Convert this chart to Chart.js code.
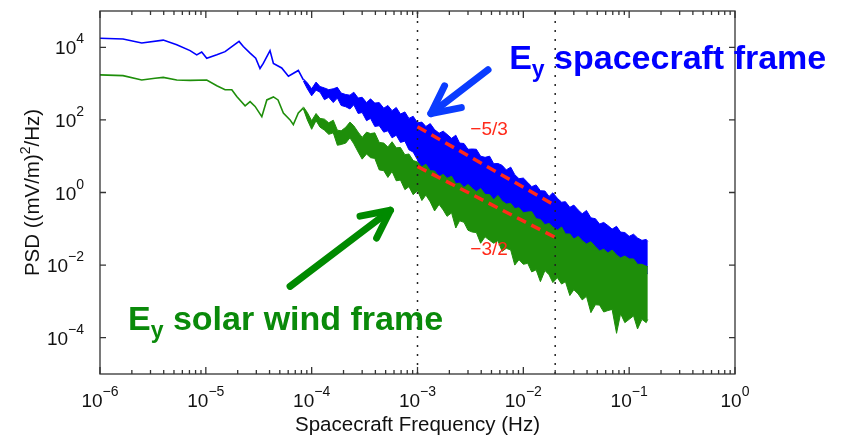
<!DOCTYPE html>
<html>
<head>
<meta charset="utf-8">
<script src="https://cdn.jsdelivr.net/npm/chart.js@4.4.1/dist/chart.umd.min.js"></script>
<style>
  html, body { margin: 0; padding: 0; background: #fff; }
  #wrap { width: 844px; height: 439px; }
</style>
</head>
<body>
<div id="wrap"><canvas id="psdChart" width="844" height="439"></canvas></div>
<script>
// ---- data (Hz, (mV/m)^2/Hz) ----
const blueLowFreq = [1e-6, 1.65e-6, 2.48e-6, 3.96e-6, 5.31e-6, 7.1e-6, 8.2e-6, 9.14e-6, 1.02e-5, 1.27e-5, 1.52e-5, 1.76e-5,
  2.06e-5, 2.26e-5, 2.62e-5, 2.96e-5, 3.25e-5, 3.49e-5, 4.04e-5, 4.35e-5, 5.21e-5, 6.03e-5, 7.48e-5, 8.35e-5];
const blueLowPsd = [1.78e4, 1.70e4, 1.32e4, 1.58e4, 1.17e4, 8.1e3, 6.2e3, 7.4e3, 5.0e3, 6.2e3, 7.6e3, 1.05e4,
  1.45e4, 1.05e4, 6.9e3, 5.0e3, 2.6e3, 3.6e3, 8.1e3, 3.6e3, 2.7e3, 1.6e3, 2.3e3, 1.26e3];

const greenLowFreq = [1e-6, 1.65e-6, 2.48e-6, 3.31e-6, 3.96e-6, 5.31e-6, 7.1e-6, 1.02e-5, 1.27e-5, 1.52e-5, 1.76e-5, 1.96e-5,
  2.35e-5, 2.62e-5, 2.92e-5, 3.38e-5, 3.77e-5, 4.35e-5, 4.81e-5, 5.4e-5, 6.25e-5, 6.71e-5, 7.48e-5, 8.35e-5];
const greenLowPsd = [1.74e3, 1.66e3, 1.26e3, 1.41e3, 1.48e3, 1.26e3, 1.23e3, 1.26e3, 870, 680, 680, 440,
  245, 320, 235, 123, 355, 430, 355, 155, 100, 74, 155, 214];

// noisy part: upper / lower edge of each trace
const bandFreq = [8.35e-5, 9.1e-5,
  1.0e-4, 1.1e-4, 1.2e-4, 1.32e-4, 1.45e-4, 1.6e-4, 1.75e-4, 1.9e-4, 2.1e-4, 2.3e-4, 2.5e-4, 2.75e-4, 3.0e-4, 3.3e-4, 3.6e-4, 3.95e-4, 4.35e-4, 4.8e-4, 5.25e-4, 5.75e-4, 6.3e-4, 6.9e-4, 7.6e-4, 8.3e-4, 9.1e-4,
  1.0e-3, 1.1e-3, 1.2e-3, 1.32e-3, 1.45e-3, 1.6e-3, 1.75e-3, 1.9e-3, 2.1e-3, 2.3e-3, 2.5e-3, 2.75e-3, 3.0e-3, 3.3e-3, 3.6e-3, 3.95e-3, 4.35e-3, 4.8e-3, 5.25e-3, 5.75e-3, 6.3e-3, 6.9e-3, 7.6e-3, 8.3e-3, 9.1e-3,
  1.0e-2, 1.1e-2, 1.2e-2, 1.32e-2, 1.45e-2, 1.6e-2, 1.75e-2, 1.9e-2, 2.1e-2, 2.3e-2, 2.5e-2, 2.75e-2, 3.0e-2, 3.3e-2, 3.6e-2, 3.95e-2, 4.35e-2, 4.8e-2, 5.25e-2, 5.75e-2, 6.3e-2, 6.9e-2, 7.6e-2, 8.3e-2, 9.1e-2,
  0.10, 0.11, 0.12, 0.132, 0.145, 0.15];

const blueHi = [1350, 1050, 720, 1100, 830, 760, 680, 720, 790, 550, 500, 480, 580, 400, 420, 300, 380, 290, 300, 210, 250, 180, 220, 145, 166, 110, 126,
  83, 87, 66, 79, 54, 43, 49, 40, 31, 38, 23, 22.4, 15.5, 15.8, 15.5, 10, 9.3, 10, 6.2, 6.3, 5.6, 4.2, 5.0, 3.1, 2.4,
  2.5, 1.9, 1.45, 1.62, 1.12, 1.1, 0.78, 0.98, 0.69, 0.54, 0.56, 0.39, 0.45, 0.33, 0.26, 0.32, 0.20, 0.19, 0.135, 0.15, 0.123, 0.098, 0.117, 0.081, 0.079,
  0.062, 0.071, 0.056, 0.048, 0.051, 0.045];
const blueLo = [1170, 720, 460, 660, 580, 360, 420, 300, 400, 250, 230, 200, 260, 150, 160, 95, 110, 66, 69, 46, 50, 32, 38, 24, 26, 15, 13,
  7.9, 3.5, 3.0, 2.6, 2.3, 2.0, 1.8, 1.55, 1.35, 1.17, 1.1, 0.98, 0.89, 0.79, 0.72, 0.66, 0.59, 0.51, 0.46, 0.41, 0.36, 0.32, 0.28, 0.24, 0.20,
  0.19, 0.17, 0.15, 0.126, 0.11, 0.093, 0.078, 0.068, 0.062, 0.054, 0.048, 0.043, 0.037, 0.033, 0.030, 0.026, 0.022, 0.019, 0.017, 0.0155, 0.014, 0.013, 0.012, 0.011, 0.0098,
  0.0087, 0.0078, 0.0071, 0.0063, 0.0059, 0.0058];
const greenHi = [230, 160, 95, 150, 110, 105, 83, 98, 52, 50, 63, 87, 69, 46, 33, 46, 42, 44, 24, 23, 18, 25, 17, 17.4, 11, 11.5, 7.6,
  6.9, 5.1, 6.0, 4.0, 3.9, 2.75, 3.16, 2.45, 2.8, 1.74, 1.82, 1.38, 1.66, 1.29, 1.05, 1.29, 0.89, 0.87, 0.63, 0.83, 0.58, 0.48, 0.50, 0.36, 0.38,
  0.275, 0.29, 0.295, 0.19, 0.18, 0.13, 0.14, 0.112, 0.091, 0.112, 0.072, 0.072, 0.052, 0.062, 0.047, 0.038, 0.044, 0.032, 0.0245, 0.0275, 0.0214, 0.026, 0.019, 0.0158, 0.0178,
  0.0148, 0.0148, 0.0105, 0.0105, 0.0093, 0.0091];
const greenLo = [200, 100, 55, 95, 63, 52, 40, 44, 20, 21, 23, 32, 22, 13, 8.3, 11.5, 9.1, 8.7, 4.2, 4.0, 2.6, 3.8, 2.1, 2.2, 1.2, 1.45, 0.87,
  1.12, 0.60, 0.85, 0.55, 0.31, 0.47, 0.33, 0.22, 0.275, 0.105, 0.166, 0.151, 0.091, 0.081, 0.079, 0.040, 0.060, 0.048, 0.040, 0.047, 0.024, 0.029, 0.026, 0.010, 0.0141,
  0.0105, 0.0112, 0.0065, 0.0074, 0.0035, 0.0071, 0.0054, 0.0033, 0.0045, 0.0030, 0.0035, 0.00145, 0.0021, 0.0016, 0.0011, 0.00138, 0.00049, 0.00081, 0.00079, 0.00051, 0.00056, 0.0006, 0.000132, 0.00046, 0.00026,
  0.00032, 0.0004, 0.000174, 0.00032, 0.00026, 0.00032];

// reference slopes and marker frequencies
const slopeFreq = [1e-3, 2e-2];
const slope53Psd = [64.6, 0.44];
const slope32Psd = [5.2, 0.058];
const markerFreq = [1e-3, 2e-2];

// axes
const xTickExp = [-6, -5, -4, -3, -2, -1, 0];
const yTickExp = [-4, -2, 0, 2, 4];

// annotation anchors in data coords [freq, psd]
const scLabelAt = [7.35e-3, 2.5e3];
const swLabelAt = [1.84e-6, 1.65e-4];
const scArrow = [[4.64e-3, 2.4e3], [1.26e-3, 130]];
const swArrow = [[6.25e-5, 2.6e-3], [5.9e-4, 0.37]];
const s53At = [4.75e-3, 38.9];
const s32At = [4.75e-3, 0.0192];

const FONT = '"Liberation Sans", Arial, Helvetica, sans-serif';
const BLUE = '#0000ff', GREEN = '#1e8e0a', RED = '#ff2a1a';

const pts = (xs, ys) => xs.map((x, i) => ({x: x, y: ys[i]}));
const vline = f => [{x: f, y: 1e-5}, {x: f, y: 1e5}];

function drawPow(ctx, x, y, exp, align, size) {
  const sup = exp < 0 ? '\u2212' + (-exp) : String(exp);
  ctx.font = size + 'px ' + FONT;
  const w1 = ctx.measureText('10').width;
  const ss = Math.round(size * 0.72);
  ctx.font = ss + 'px ' + FONT;
  const w2 = ctx.measureText(sup).width;
  const x0 = align === 'center' ? x - (w1 + w2) / 2 : x - (w1 + w2);
  ctx.textAlign = 'left';
  ctx.textBaseline = 'alphabetic';
  ctx.font = size + 'px ' + FONT;
  ctx.fillText('10', x0, y);
  ctx.font = ss + 'px ' + FONT;
  ctx.fillText(sup, x0 + w1, y - 11);
}

function drawArrow(ctx, a, b, color) {
  const ang = Math.atan2(b[1] - a[1], b[0] - a[0]);
  const tx = b[0] - 3.5 * Math.cos(ang), ty = b[1] - 3.5 * Math.sin(ang);
  const L = 31, s = 0.46;
  ctx.save();
  ctx.strokeStyle = color;
  ctx.lineWidth = 7;
  ctx.lineCap = 'round';
  ctx.lineJoin = 'round';
  ctx.beginPath();
  ctx.moveTo(a[0], a[1]);
  ctx.lineTo(tx, ty);
  ctx.stroke();
  ctx.beginPath();
  ctx.moveTo(tx - L * Math.cos(ang - s), ty - L * Math.sin(ang - s));
  ctx.lineTo(tx, ty);
  ctx.lineTo(tx - L * Math.cos(ang + s), ty - L * Math.sin(ang + s));
  ctx.stroke();
  ctx.restore();
}

function drawEy(ctx, x, y, rest, color) {
  ctx.save();
  ctx.fillStyle = color;
  ctx.textAlign = 'left';
  ctx.textBaseline = 'alphabetic';
  ctx.font = 'bold 34px ' + FONT;
  ctx.fillText('E', x, y);
  const wE = ctx.measureText('E').width;
  ctx.font = 'bold 23px ' + FONT;
  ctx.fillText('y', x + wE, y + 8);
  const wy = ctx.measureText('y').width;
  ctx.font = 'bold 34px ' + FONT;
  ctx.fillText(rest, x + wE + wy, y);
  ctx.restore();
}

const framePlugin = {
  id: 'frame',
  afterDatasetsDraw(chart) {
    const {ctx, chartArea: a, scales: {x, y}} = chart;
    ctx.save();
    ctx.strokeStyle = '#333';
    ctx.lineWidth = 1.3;
    ctx.strokeRect(a.left, a.top, a.right - a.left, a.bottom - a.top);
    ctx.beginPath();
    xTickExp.forEach((e, i) => {
      const px = x.getPixelForValue(Math.pow(10, e));
      ctx.moveTo(px, a.bottom); ctx.lineTo(px, a.bottom - 7);
      ctx.moveTo(px, a.top); ctx.lineTo(px, a.top + 7);
      if (i < xTickExp.length - 1) {
        for (let m = 2; m <= 9; m++) {
          const mx = x.getPixelForValue(m * Math.pow(10, e));
          ctx.moveTo(mx, a.bottom); ctx.lineTo(mx, a.bottom - 4);
          ctx.moveTo(mx, a.top); ctx.lineTo(mx, a.top + 4);
        }
      }
    });
    yTickExp.forEach(e => {
      const py = y.getPixelForValue(Math.pow(10, e));
      ctx.moveTo(a.left, py); ctx.lineTo(a.left + 6, py);
      ctx.moveTo(a.right, py); ctx.lineTo(a.right - 6, py);
    });
    ctx.stroke();
    ctx.restore();
  },
  afterDraw(chart) {
    const {ctx, chartArea: a, scales: {x, y}} = chart;
    const P = p => [x.getPixelForValue(p[0]), y.getPixelForValue(p[1])];
    ctx.save();
    ctx.fillStyle = '#111';
    xTickExp.forEach(e => drawPow(ctx, x.getPixelForValue(Math.pow(10, e)), a.bottom + 33, e, 'center', 19));
    yTickExp.forEach(e => drawPow(ctx, a.left - 16, y.getPixelForValue(Math.pow(10, e)) + 7, e, 'right', 19));

    // axis titles
    ctx.font = '20.5px ' + FONT;
    ctx.textAlign = 'center';
    ctx.textBaseline = 'alphabetic';
    ctx.fillText('Spacecraft Frequency (Hz)', (a.left + a.right) / 2, 431);

    ctx.save();
    ctx.translate(38.5, (a.top + a.bottom) / 2);
    ctx.rotate(-Math.PI / 2);
    const p1 = 'PSD ((mV/m)', p2 = '2', p3 = '/Hz)';
    ctx.font = '20.5px ' + FONT;
    const w1 = ctx.measureText(p1).width, w3 = ctx.measureText(p3).width;
    ctx.font = '14px ' + FONT;
    const w2 = ctx.measureText(p2).width;
    const sx = -(w1 + w2 + w3) / 2;
    ctx.textAlign = 'left';
    ctx.font = '20.5px ' + FONT;
    ctx.fillText(p1, sx, 0);
    ctx.font = '14px ' + FONT;
    ctx.fillText(p2, sx + w1, -9);
    ctx.font = '20.5px ' + FONT;
    ctx.fillText(p3, sx + w1 + w2, 0);
    ctx.restore();

    // slope labels
    ctx.fillStyle = RED;
    ctx.font = '19px ' + FONT;
    ctx.textAlign = 'center';
    let q = P(s53At);
    ctx.fillText('\u22125/3', q[0], q[1]);
    q = P(s32At);
    ctx.fillText('\u22123/2', q[0], q[1]);

    // arrows and frame labels
    drawArrow(ctx, P(scArrow[0]), P(scArrow[1]), '#0a3cff');
    drawArrow(ctx, P(swArrow[0]), P(swArrow[1]), '#008a00');
    q = P(scLabelAt);
    drawEy(ctx, q[0], q[1], ' spacecraft frame', BLUE);
    q = P(swLabelAt);
    drawEy(ctx, q[0], q[1], ' solar wind frame', '#0a8a0a');
    ctx.restore();
  }
};

const lineBase = {pointRadius: 0, tension: 0, fill: false};

new Chart(document.getElementById('psdChart'), {
  type: 'line',
  data: {
    datasets: [
      Object.assign({data: pts(slopeFreq, slope53Psd), borderColor: RED, borderWidth: 3.5, borderDash: [10, 6], order: 0}, lineBase),
      Object.assign({data: pts(slopeFreq, slope32Psd), borderColor: RED, borderWidth: 3.5, borderDash: [10, 6], order: 0}, lineBase),
      Object.assign({data: vline(markerFreq[0]), borderColor: '#222', borderWidth: 1.5, borderDash: [2, 7], order: 1}, lineBase),
      Object.assign({data: vline(markerFreq[1]), borderColor: '#222', borderWidth: 1.5, borderDash: [2, 7], order: 1}, lineBase),
      Object.assign({data: pts(greenLowFreq, greenLowPsd), borderColor: GREEN, borderWidth: 1.6, order: 2}, lineBase),
      Object.assign({}, lineBase, {data: pts(bandFreq, greenHi), borderColor: GREEN, backgroundColor: GREEN, borderWidth: 1, fill: '+1', order: 2}),
      Object.assign({data: pts(bandFreq, greenLo), borderColor: GREEN, borderWidth: 1, order: 2}, lineBase),
      Object.assign({data: pts(blueLowFreq, blueLowPsd), borderColor: BLUE, borderWidth: 1.6, order: 3}, lineBase),
      Object.assign({}, lineBase, {data: pts(bandFreq, blueHi), borderColor: BLUE, backgroundColor: BLUE, borderWidth: 1, fill: '+1', order: 3}),
      Object.assign({data: pts(bandFreq, blueLo), borderColor: BLUE, borderWidth: 1, order: 3}, lineBase)
    ]
  },
  options: {
    responsive: false,
    animation: false,
    layout: {padding: {left: 100, right: 109, top: 11, bottom: 65}},
    plugins: {legend: {display: false}, tooltip: {enabled: false}},
    scales: {
      x: {type: 'logarithmic', min: 1e-6, max: 1, display: false},
      y: {type: 'logarithmic', min: 1e-5, max: 1e5, display: false}
    }
  },
  plugins: [framePlugin]
});
</script>
</body>
</html>
